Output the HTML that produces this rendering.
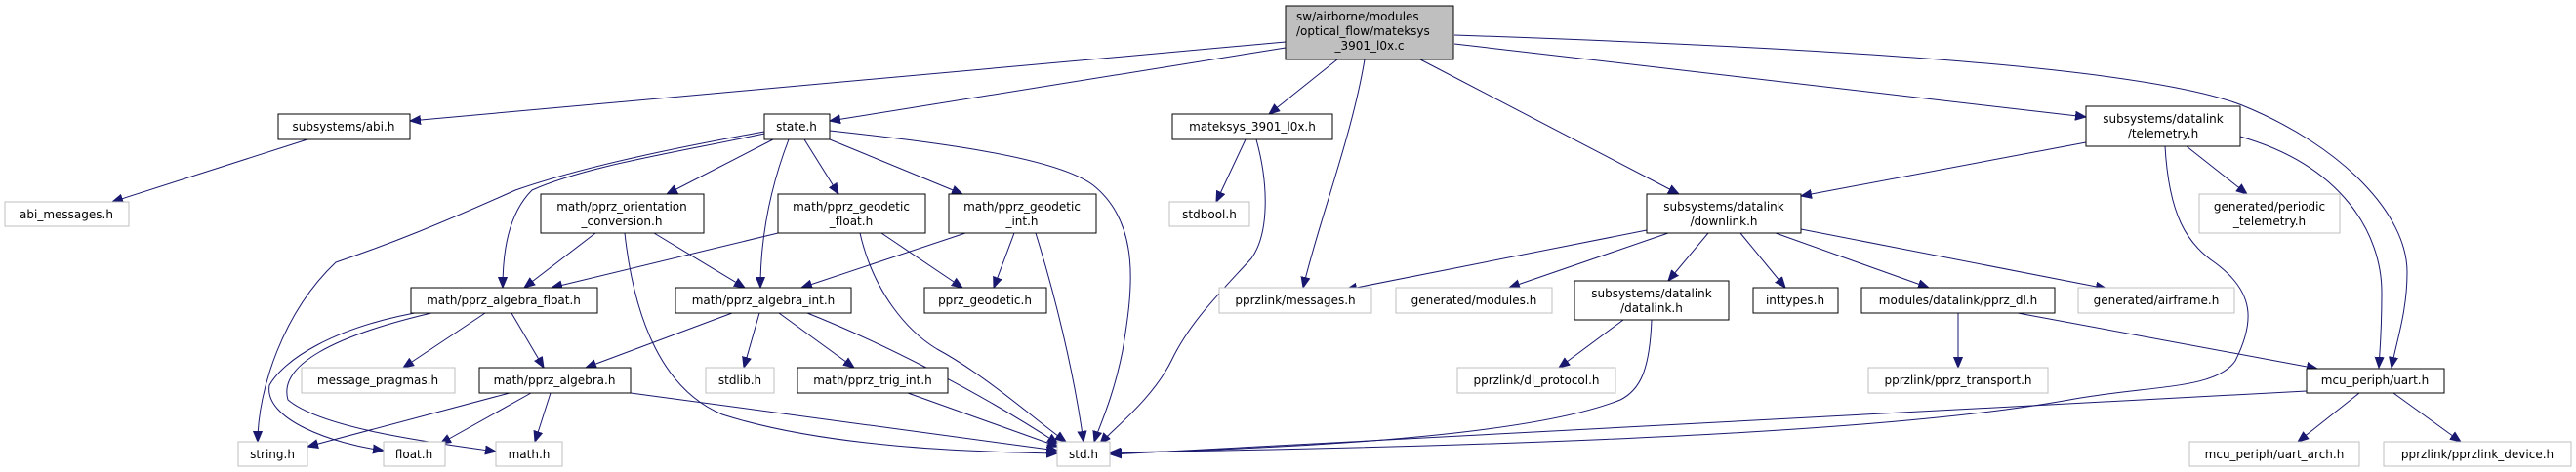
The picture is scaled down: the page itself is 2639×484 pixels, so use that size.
<!DOCTYPE html>
<html><head><meta charset="utf-8"><style>
html,body{margin:0;padding:0;background:#fff;}
svg{display:block;}
text{font-family:"DejaVu Sans","Liberation Sans",sans-serif;font-size:12px;fill:#000;}
.n{fill:#fff;stroke:#000;stroke-width:1;}
.g{fill:#fff;stroke:#bfbfbf;stroke-width:1;}
.e{fill:none;stroke:#191970;stroke-width:1;}
</style></head><body>
<svg width="2639" height="484" viewBox="0 0 2639 484" xmlns="http://www.w3.org/2000/svg">
<defs>
<marker id="a" markerUnits="userSpaceOnUse" markerWidth="12" markerHeight="10" refX="11" refY="5" orient="auto">
<path d="M0,0.5 L11,5 L0,9.5 z" fill="#191970" stroke="#191970"/>
</marker>
</defs>
<g marker-end="url(#a)">
<!-- main -->
<path class="e" d="M1317,43 L420,124"/>
<path class="e" d="M1317,49 L850,124"/>
<path class="e" d="M1370,61 L1300,117"/>
<path class="e" d="M1398,61 C1385,140 1350,230 1335,295"/>
<path class="e" d="M1455,61 L1720,199"/>
<path class="e" d="M1490,45 L2137,120"/>
<path class="e" d="M1490,36 C1900,50 2200,70 2297,108 C2400,150 2466,220 2466,279 C2466,320 2455,350 2450,377"/>
<!-- abi -->
<path class="e" d="M315,143 L115,207"/>
<!-- state -->
<path class="e" d="M783,135 C700,150 600,170 528,195 C450,230 400,250 344,269 C290,320 264,400 264,453"/>
<path class="e" d="M783,137 C700,155 600,170 545,195 C520,220 515,260 515,295"/>
<path class="e" d="M792,143 L683,199"/>
<path class="e" d="M808,143 C790,190 779,240 779,295"/>
<path class="e" d="M824,143 L859,199"/>
<path class="e" d="M850,143 L986,199"/>
<path class="e" d="M850,134 C950,145 1080,160 1120,190 C1170,230 1160,300 1150,360 C1140,410 1125,440 1121,453"/>
<!-- orientation -->
<path class="e" d="M610,239 L537,295"/>
<path class="e" d="M670,239 L763,295"/>
<path class="e" d="M640,239 C650,330 680,400 740,425 C850,460 1000,463 1083,465"/>
<!-- geodetic float -->
<path class="e" d="M797,239 L565,295"/>
<path class="e" d="M903,239 L986,295"/>
<path class="e" d="M881,239 C895,300 930,340 960,358 C1010,385 1060,430 1092,453"/>
<!-- geodetic int -->
<path class="e" d="M989,239 L821,295"/>
<path class="e" d="M1039,239 L1018,295"/>
<path class="e" d="M1061,239 C1080,300 1100,380 1110,453"/>
<!-- algebra float -->
<path class="e" d="M497,321 L413,377"/>
<path class="e" d="M524,321 L557,377"/>
<path class="e" d="M436,319 C340,335 290,370 276,395 C270,430 340,455 393,462"/>
<path class="e" d="M442,321 C340,345 285,375 295,410 C330,440 450,455 508,463"/>
<!-- algebra int -->
<path class="e" d="M750,321 L600,377"/>
<path class="e" d="M778,321 L762,377"/>
<path class="e" d="M798,321 L875,377"/>
<path class="e" d="M827,321 C900,350 1000,400 1084,455"/>
<!-- algebra -->
<path class="e" d="M522,403 L315,458"/>
<path class="e" d="M544,403 L451,455"/>
<path class="e" d="M564,403 L548,453"/>
<path class="e" d="M646,403 L1083,462"/>
<!-- trig -->
<path class="e" d="M930,403 L1084,458"/>
<!-- mateksys -->
<path class="e" d="M1276,143 L1246,207"/>
<path class="e" d="M1287,143 C1300,190 1300,240 1282,265 C1250,300 1219,330 1200,370 C1180,410 1140,440 1127,455"/>
<!-- downlink -->
<path class="e" d="M1687,236 L1379,297"/>
<path class="e" d="M1709,239 L1546,295"/>
<path class="e" d="M1750,239 L1709,288"/>
<path class="e" d="M1783,239 L1829,295"/>
<path class="e" d="M1819,239 L1976,295"/>
<path class="e" d="M1845,235 L2158,296"/>
<!-- telemetry -->
<path class="e" d="M2137,146 L1845,201"/>
<path class="e" d="M2240,150 L2302,199"/>
<path class="e" d="M2218,150 C2222,220 2240,250 2270,270 C2310,300 2310,330 2290,370 C2270,400 2200,395 2120,410 C1900,450 1400,460 1137,464"/>
<path class="e" d="M2295,140 C2400,170 2440,240 2440,300 C2440,340 2438,360 2437,377"/>
<!-- datalink -->
<path class="e" d="M1663,328 L1597,377"/>
<path class="e" d="M1692,328 C1690,380 1680,400 1660,410 C1560,450 1300,460 1138,465"/>
<!-- pprz_dl -->
<path class="e" d="M2006,321 L2006,377"/>
<path class="e" d="M2067,321 L2374,378"/>
<!-- uart -->
<path class="e" d="M2363,401 L1138,466"/>
<path class="e" d="M2417,403 L2354,453"/>
<path class="e" d="M2452,403 L2521,453"/>
</g>
<!-- nodes -->
<rect x="1317" y="6" width="172" height="55" fill="#bfbfbf" stroke="#000"/>
<text x="1328" y="21">sw/airborne/modules</text>
<text x="1328" y="36">/optical_flow/mateksys</text>
<text x="1403" y="51" text-anchor="middle">_3901_l0x.c</text>

<g text-anchor="middle">
<rect class="n" x="285" y="117" width="135" height="26"/><text x="352" y="134">subsystems/abi.h</text>
<rect class="g" x="5" y="207" width="127" height="25"/><text x="68" y="224">abi_messages.h</text>
<rect class="n" x="783" y="117" width="67" height="26"/><text x="816" y="134">state.h</text>
<rect class="n" x="1201" y="117" width="164" height="26"/><text x="1283" y="134">mateksys_3901_l0x.h</text>
<rect class="g" x="1198" y="207" width="82" height="25"/><text x="1239" y="224">stdbool.h</text>
<rect class="n" x="2137" y="109" width="158" height="41"/><text x="2216" y="126">subsystems/datalink</text><text x="2216" y="141">/telemetry.h</text>

<rect class="n" x="554" y="199" width="167" height="40"/><text x="637" y="216">math/pprz_orientation</text><text x="637" y="231">_conversion.h</text>
<rect class="n" x="797" y="199" width="151" height="40"/><text x="872" y="216">math/pprz_geodetic</text><text x="872" y="231">_float.h</text>
<rect class="n" x="972" y="199" width="151" height="40"/><text x="1047" y="216">math/pprz_geodetic</text><text x="1047" y="231">_int.h</text>
<rect class="n" x="1687" y="199" width="158" height="40"/><text x="1766" y="216">subsystems/datalink</text><text x="1766" y="231">/downlink.h</text>
<rect class="g" x="2253" y="199" width="144" height="40"/><text x="2325" y="216">generated/periodic</text><text x="2325" y="231">_telemetry.h</text>

<rect class="n" x="421" y="295" width="191" height="26"/><text x="516" y="312">math/pprz_algebra_float.h</text>
<rect class="n" x="692" y="295" width="180" height="26"/><text x="782" y="312">math/pprz_algebra_int.h</text>
<rect class="n" x="947" y="295" width="125" height="26"/><text x="1009" y="312">pprz_geodetic.h</text>
<rect class="g" x="1249" y="295" width="156" height="26"/><text x="1327" y="312">pprzlink/messages.h</text>
<rect class="g" x="1430" y="295" width="160" height="26"/><text x="1510" y="312">generated/modules.h</text>
<rect class="n" x="1613" y="288" width="158" height="40"/><text x="1692" y="305">subsystems/datalink</text><text x="1692" y="320">/datalink.h</text>
<rect class="n" x="1796" y="295" width="87" height="26"/><text x="1839" y="312">inttypes.h</text>
<rect class="n" x="1907" y="295" width="198" height="26"/><text x="2006" y="312">modules/datalink/pprz_dl.h</text>
<rect class="g" x="2129" y="295" width="160" height="26"/><text x="2209" y="312">generated/airframe.h</text>

<rect class="g" x="309" y="377" width="157" height="26"/><text x="387" y="394">message_pragmas.h</text>
<rect class="n" x="491" y="377" width="155" height="26"/><text x="568" y="394">math/pprz_algebra.h</text>
<rect class="g" x="723" y="377" width="70" height="26"/><text x="758" y="394">stdlib.h</text>
<rect class="n" x="817" y="377" width="154" height="26"/><text x="894" y="394">math/pprz_trig_int.h</text>
<rect class="g" x="1493" y="377" width="162" height="26"/><text x="1574" y="394">pprzlink/dl_protocol.h</text>
<rect class="g" x="1914" y="377" width="184" height="26"/><text x="2006" y="394">pprzlink/pprz_transport.h</text>
<rect class="n" x="2363" y="378" width="141" height="25"/><text x="2433" y="394">mcu_periph/uart.h</text>

<rect class="g" x="244" y="453" width="71" height="25"/><text x="279" y="470">string.h</text>
<rect class="g" x="393" y="453" width="63" height="25"/><text x="424" y="470">float.h</text>
<rect class="g" x="508" y="453" width="68" height="25"/><text x="542" y="470">math.h</text>
<rect class="g" x="1083" y="453" width="54" height="25"/><text x="1110" y="470">std.h</text>
<rect class="g" x="2243" y="453" width="174" height="25"/><text x="2330" y="470">mcu_periph/uart_arch.h</text>
<rect class="g" x="2442" y="453" width="192" height="25"/><text x="2538" y="470">pprzlink/pprzlink_device.h</text>
</g>
</svg>
</body></html>
